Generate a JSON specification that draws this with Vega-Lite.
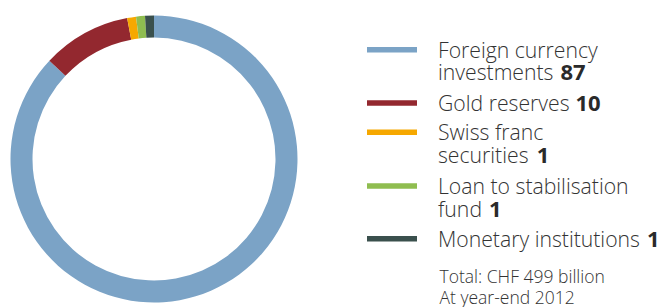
{
  "$schema": "https://vega.github.io/schema/vega-lite/v6.json",
  "padding": {"top": 10, "left": 0, "right": 0, "bottom": 0},
  "background": "white",
  "config": {"view": {"stroke": null}},
  "datasets": {
    "shares": [
      {"item": "Foreign currency investments", "value": 87, "order": 1},
      {"item": "Gold reserves", "value": 10, "order": 2},
      {"item": "Swiss franc securities", "value": 1, "order": 3},
      {"item": "Loan to stabilisation fund", "value": 1, "order": 4},
      {"item": "Monetary institutions", "value": 1, "order": 5}
    ],
    "lines": [
      {"line": 1, "item": "Foreign currency investments", "text": "Foreign currency", "num": null},
      {"line": 2, "item": "Foreign currency investments", "text": "investments", "num": "87"},
      {"line": 3, "item": "Gold reserves", "text": "Gold reserves", "num": "10"},
      {"line": 4, "item": "Swiss franc securities", "text": "Swiss franc", "num": null},
      {"line": 5, "item": "Swiss franc securities", "text": "securities", "num": "1"},
      {"line": 6, "item": "Loan to stabilisation fund", "text": "Loan to stabilisation", "num": null},
      {"line": 7, "item": "Loan to stabilisation fund", "text": "fund", "num": "1"},
      {"line": 8, "item": "Monetary institutions", "text": "Monetary institutions", "num": "1"},
      {"line": 9, "item": null, "text": "Total: CHF 499 billion", "num": null},
      {"line": 10, "item": null, "text": "At year-end 2012", "num": null}
    ]
  },
  "resolve": {"scale": {"color": "shared"}},
  "spacing": 0,
  "bounds": "flush",
  "hconcat": [
    {
      "width": 308,
      "height": 297,
      "data": {"name": "shares"},
      "mark": {"type": "arc", "outerRadius": 143.5, "innerRadius": 121.5, "yOffset": 0.5},
      "encoding": {
        "theta": {"field": "value", "type": "quantitative", "stack": true},
        "order": {"field": "order", "type": "quantitative"},
        "color": {
          "field": "item",
          "type": "nominal",
          "legend": null,
          "scale": {
            "domain": ["Foreign currency investments", "Gold reserves", "Swiss franc securities", "Loan to stabilisation fund", "Monetary institutions"],
            "range": ["#7ba3c6", "#93282f", "#f6a800", "#8fbd50", "#3a504d"]
          }
        }
      }
    },
    {
      "width": 351,
      "height": 297,
      "data": {"name": "lines"},
      "encoding": {
        "y": {
          "field": "line",
          "type": "quantitative",
          "axis": null,
          "scale": {
            "domain": [1, 2, 3, 4, 5, 6, 7, 8, 9, 10],
            "range": [47.7, 70, 101, 130.3, 153.3, 184, 206.7, 236.7, 273.3, 293.5],
            "nice": false,
            "zero": false
          }
        }
      },
      "layer": [
        {
          "transform": [{"filter": "isValid(datum.item)"}],
          "mark": {"type": "rule", "strokeWidth": 5.5, "yOffset": -8, "x": 59, "x2": 109},
          "encoding": {
            "y": {"aggregate": "min", "field": "line", "type": "quantitative"},
            "color": {"field": "item", "type": "nominal", "legend": null}
          }
        },
        {
          "transform": [{"filter": "isValid(datum.item)"}],
          "mark": {"type": "text", "align": "left", "baseline": "alphabetic", "x": 130, "font": "Open Sans", "fontWeight": 300, "fontSize": 21.2, "color": "#333333"},
          "encoding": {
            "text": {"field": "text", "type": "nominal"}
          }
        },
        {
          "transform": [{"filter": "isValid(datum.num)"}],
          "mark": {"type": "text", "align": "left", "baseline": "alphabetic", "font": "Open Sans", "fontWeight": "bold", "fontSize": 22, "color": "#2a2a2a"},
          "encoding": {
            "x": {
              "field": "line",
              "type": "quantitative",
              "axis": null,
              "scale": {"domain": [2, 3, 5, 7, 8], "range": [252.5, 267.5, 228.7, 181, 339], "nice": false, "zero": false}
            },
            "text": {"field": "num", "type": "nominal"}
          }
        },
        {
          "transform": [{"filter": "!isValid(datum.item)"}],
          "mark": {"type": "text", "align": "left", "baseline": "alphabetic", "x": 131.5, "font": "Open Sans", "fontWeight": 300, "fontSize": 17.5, "color": "#333333"},
          "encoding": {
            "text": {"field": "text", "type": "nominal"}
          }
        }
      ]
    }
  ]
}
